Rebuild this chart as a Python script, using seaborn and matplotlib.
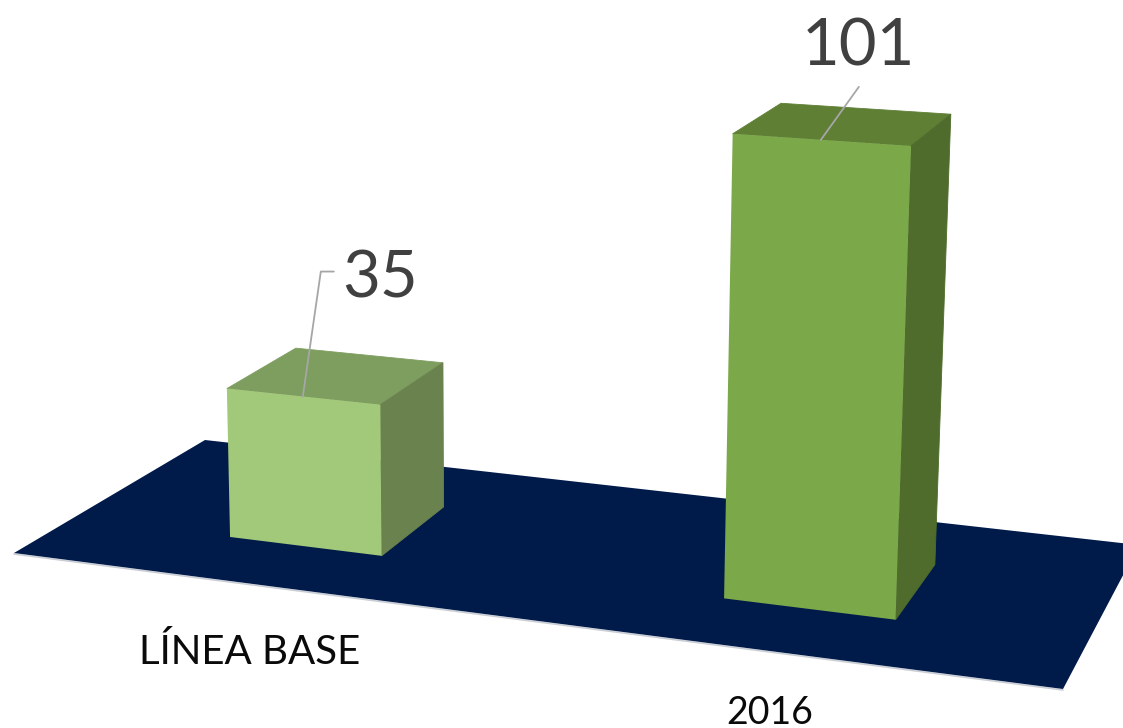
import numpy as np
import matplotlib
matplotlib.use("Agg")
import matplotlib.pyplot as plt
from matplotlib.patches import Polygon
from matplotlib.transforms import Transform, IdentityTransform
import seaborn as sns

# chart data
categories = ["LÍNEA BASE", "2016"]
values = [35, 101]
value_labels = ["35", "101"]

# colours per bar
front_colors = ["#A2C87A", "#7BA848"]
top_colors = ["#7E9E5F", "#5F7F35"]
side_colors = ["#6A824E", "#4F6C2C"]

W, H = 1123, 728
BAR_W = 0.32
BAR_DEPTH = 1.0

# perspective camera: (category position, depth, value) -> image pixels
CAMERA = np.array([
    [455.329788, 83.710428, -0.168268, 305.105355],
    [26.112422, -22.751634, -4.413454, 546.308505],
    [-0.05998, 0.050454, -0.00034, 1.0],
])

# floor extent in category position / depth
FLOOR_X = [-0.5063, 1.5018, 1.503, -0.4945]
FLOOR_D = [-0.7246, -0.7201, 1.7849, 1.7874]


def project(x, d, z):
    x, d, z = np.broadcast_arrays(np.asarray(x, float), np.asarray(d, float), np.asarray(z, float))
    q = CAMERA @ np.stack([x, d, z, np.ones_like(x)])
    return np.stack([q[0] / q[2], H - q[1] / q[2]], axis=-1)


class FrontPlane(Transform):
    # sends the seaborn bars (x, value) onto the front plane of the 3d boxes
    input_dims = 2
    output_dims = 2

    def transform_non_affine(self, values):
        values = np.asarray(values)
        return project(values[:, 0], 0, values[:, 1])


sns.set_theme(style="white")
plt.rcParams["font.family"] = ["Lato", "DejaVu Sans"]

fig = plt.figure(figsize=(W / 100, H / 100), dpi=100)
ax = fig.add_axes([0, 0, 1, 1])
sns.barplot(x=categories, y=values, hue=categories, palette=front_colors, width=BAR_W,
            saturation=1, legend=False, ax=ax, zorder=4)
ax.axis("off")
bars = list(ax.patches)
screen = IdentityTransform()

# floor
floor_xy = project(FLOOR_X, FLOOR_D, 0)
ax.add_patch(Polygon(floor_xy, closed=True, fc="#001A4A", ec="none", transform=screen,
                     clip_on=False, zorder=1))
ax.plot(floor_xy[:2, 0], floor_xy[:2, 1] - 1, color="#C9CDD4", lw=1.2, transform=screen,
        clip_on=False, zorder=0.5)

# box faces built from the seaborn bars
for i, bar in enumerate(bars):
    bar.set_transform(FrontPlane())
    bar.set_clip_on(False)
    bar.set_edgecolor("none")
    left = bar.get_x()
    right = left + bar.get_width()
    height = bar.get_height()
    top = project([left, right, right, left], [0, 0, BAR_DEPTH, BAR_DEPTH], height)
    side = project(right, [0, BAR_DEPTH, BAR_DEPTH, 0], [0, 0, height, height])
    ax.add_patch(Polygon(top, fc=top_colors[i], ec=top_colors[i], lw=0.6, transform=screen,
                         clip_on=False, zorder=3))
    ax.add_patch(Polygon(side, fc=side_colors[i], ec=side_colors[i], lw=0.6, transform=screen,
                         clip_on=False, zorder=3))

# labels, offsets in pixels from the bar
label_off = [(-55, -106), (-39, -104)]
label_size = [29, 27]
value_off = [(77, 118), (38, 93)]
leader = [[(0, 0), (18, 125), (31, 125)], [(0, 0), (38, 53)]]
for i, (cat, v, txt) in enumerate(zip(categories, values, value_labels)):
    base = project(i, 0, 0)
    tip = project(i, 0, v)
    ax.annotate(cat, xy=base, xycoords=screen, xytext=label_off[i], textcoords="offset pixels",
                ha="center", va="center", fontsize=label_size[i], color="#0A0A0A",
                annotation_clip=False, zorder=6)
    ax.annotate(txt, xy=tip, xycoords=screen, xytext=value_off[i], textcoords="offset pixels",
                ha="center", va="center", fontsize=47, color="#404040", annotation_clip=False, zorder=6)
    pts = np.array(leader[i]) + tip
    ax.plot(pts[:, 0], pts[:, 1], color="#A6A6A6", lw=1.3, transform=screen, clip_on=False, zorder=5)

fig.savefig("out.png", dpi=100)
